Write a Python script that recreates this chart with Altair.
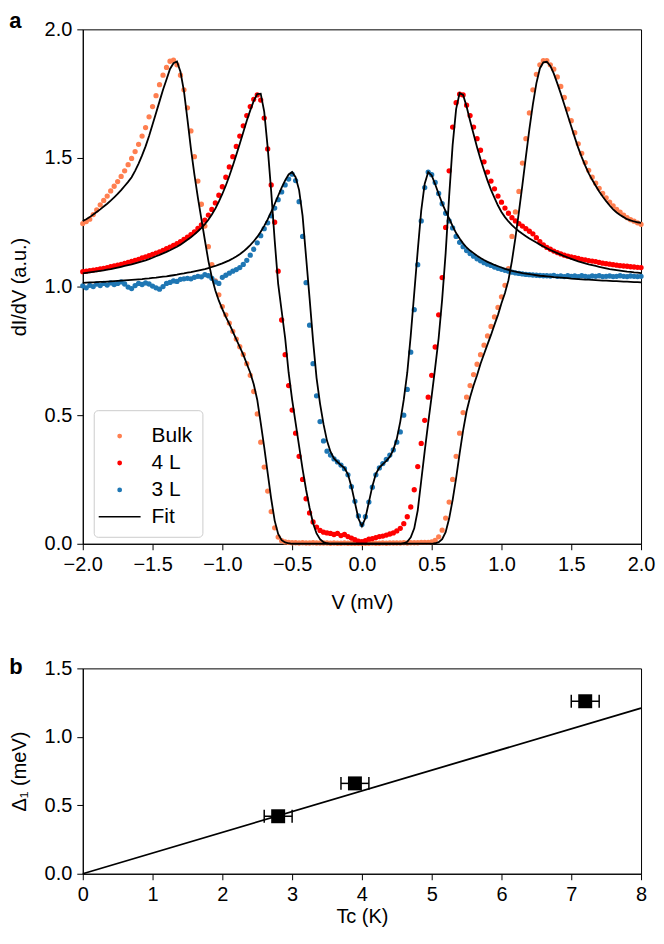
import altair as alt
import pandas as pd

# bias voltage samples (mV): one reading every 0.025 mV from -2 to 2
V = [round(-2 + 0.025 * i, 3) for i in range(161)]

# dI/dV (a.u.)
BULK = [
    1.245, 1.253, 1.262, 1.280, 1.298, 1.318, 1.335, 1.352, 1.372, 1.390,
    1.408, 1.428, 1.450, 1.474, 1.498, 1.525, 1.553, 1.585, 1.618, 1.660,
    1.700, 1.742, 1.785, 1.822, 1.852, 1.876, 1.880, 1.862, 1.822, 1.765,
    1.695, 1.605, 1.505, 1.410, 1.320, 1.235, 1.155, 1.085, 1.022, 0.968,
    0.922, 0.890, 0.858, 0.826, 0.796, 0.766, 0.736, 0.700, 0.655, 0.592,
    0.505, 0.395, 0.298, 0.205, 0.125, 0.062, 0.026, 0.012, 0.007, 0.005,
    0.004, 0.004, 0.003, 0.004, 0.003, 0.003, 0.004, 0.003, 0.003, 0.003,
    0.003, 0.002, 0.003, 0.002, 0.002, 0.003, 0.002, 0.002, 0.002, 0.002,
    0.002, 0.002, 0.002, 0.003, 0.002, 0.002, 0.003, 0.002, 0.003, 0.003,
    0.003, 0.003, 0.004, 0.003, 0.004, 0.004, 0.004, 0.005, 0.005, 0.005,
    0.007, 0.013, 0.027, 0.053, 0.100, 0.162, 0.250, 0.340, 0.430, 0.510,
    0.570, 0.615, 0.658, 0.698, 0.735, 0.772, 0.808, 0.845, 0.882, 0.919,
    0.960, 1.005, 1.070, 1.195, 1.290, 1.370, 1.480, 1.575, 1.675, 1.765,
    1.825, 1.862, 1.878, 1.878, 1.862, 1.845, 1.815, 1.778, 1.735, 1.690,
    1.645, 1.598, 1.555, 1.518, 1.482, 1.452, 1.425, 1.402, 1.382, 1.362,
    1.345, 1.328, 1.314, 1.300, 1.289, 1.278, 1.268, 1.260, 1.254, 1.248,
    1.242,
]
BULK_FIT = [
    1.255, 1.262, 1.270, 1.280, 1.290, 1.300, 1.311, 1.322, 1.334, 1.347,
    1.360, 1.375, 1.391, 1.407, 1.425, 1.450, 1.478, 1.510, 1.545, 1.585,
    1.630, 1.675, 1.720, 1.765, 1.805, 1.846, 1.868, 1.875, 1.835, 1.760,
    1.650, 1.535, 1.435, 1.345, 1.262, 1.180, 1.100, 1.035, 0.985, 0.945,
    0.912, 0.882, 0.855, 0.825, 0.795, 0.765, 0.735, 0.700, 0.665, 0.620,
    0.560, 0.470, 0.376, 0.275, 0.175, 0.090, 0.038, 0.014, 0.005, 0.002,
    0.000, 0.000, 0.000, 0.000, 0.000, 0.000, 0.000, 0.000, 0.000, 0.000,
    0.000, 0.000, 0.000, 0.000, 0.000, 0.000, 0.000, 0.000, 0.000, 0.000,
    0.000, 0.000, 0.000, 0.000, 0.000, 0.000, 0.000, 0.000, 0.000, 0.000,
    0.000, 0.000, 0.000, 0.000, 0.000, 0.000, 0.000, 0.000, 0.000, 0.000,
    0.000, 0.002, 0.006, 0.018, 0.045, 0.098, 0.170, 0.255, 0.350, 0.440,
    0.515, 0.570, 0.615, 0.655, 0.700, 0.738, 0.775, 0.812, 0.852, 0.890,
    0.935, 0.975, 1.025, 1.100, 1.190, 1.290, 1.395, 1.505, 1.612, 1.708,
    1.790, 1.848, 1.872, 1.874, 1.858, 1.828, 1.790, 1.750, 1.708, 1.665,
    1.622, 1.580, 1.539, 1.503, 1.470, 1.440, 1.415, 1.392, 1.370, 1.350,
    1.332, 1.315, 1.300, 1.288, 1.278, 1.270, 1.262, 1.257, 1.253, 1.250,
    1.248,
]
L4 = [
    1.058, 1.060, 1.062, 1.064, 1.066, 1.069, 1.071, 1.074, 1.077, 1.080,
    1.083, 1.086, 1.090, 1.094, 1.098, 1.102, 1.106, 1.111, 1.115, 1.120,
    1.125, 1.130, 1.135, 1.141, 1.147, 1.153, 1.160, 1.167, 1.175, 1.183,
    1.192, 1.202, 1.213, 1.226, 1.240, 1.258, 1.278, 1.300, 1.325, 1.355,
    1.388, 1.425, 1.465, 1.505, 1.545, 1.585, 1.625, 1.665, 1.700, 1.728,
    1.745, 1.725, 1.655, 1.535, 1.395, 1.250, 1.060, 0.870, 0.735, 0.615,
    0.520, 0.430, 0.340, 0.250, 0.175, 0.120, 0.085, 0.065, 0.052, 0.045,
    0.042, 0.040, 0.036, 0.040, 0.032, 0.036, 0.028, 0.022, 0.016, 0.010,
    0.008, 0.012, 0.018, 0.020, 0.024, 0.028, 0.030, 0.034, 0.038, 0.042,
    0.050, 0.060, 0.078, 0.105, 0.143, 0.210, 0.300, 0.390, 0.480, 0.570,
    0.655, 0.765, 0.890, 1.035, 1.230, 1.450, 1.620, 1.715, 1.748, 1.745,
    1.705, 1.665, 1.620, 1.575, 1.530, 1.485, 1.445, 1.410, 1.380, 1.352,
    1.328, 1.305, 1.285, 1.268, 1.255, 1.245, 1.235, 1.225, 1.215, 1.205,
    1.190, 1.175, 1.162, 1.152, 1.145, 1.138, 1.132, 1.127, 1.122, 1.118,
    1.115, 1.112, 1.110, 1.106, 1.104, 1.101, 1.099, 1.097, 1.094, 1.091,
    1.089, 1.087, 1.085, 1.083, 1.081, 1.080, 1.079, 1.077, 1.076, 1.075,
    1.074,
]
L4_FIT = [
    1.051, 1.053, 1.055, 1.057, 1.059, 1.061, 1.063, 1.066, 1.068, 1.071,
    1.074, 1.077, 1.080, 1.083, 1.086, 1.090, 1.094, 1.098, 1.102, 1.107,
    1.112, 1.118, 1.123, 1.129, 1.135, 1.141, 1.148, 1.155, 1.163, 1.172,
    1.182, 1.192, 1.203, 1.215, 1.228, 1.243, 1.260, 1.280, 1.303, 1.330,
    1.360, 1.393, 1.430, 1.470, 1.512, 1.555, 1.600, 1.645, 1.685, 1.722,
    1.748, 1.750, 1.680, 1.540, 1.370, 1.180, 1.010, 0.905, 0.800, 0.665,
    0.560, 0.470, 0.380, 0.290, 0.210, 0.140, 0.080, 0.040, 0.018, 0.006,
    0.002, 0.000, 0.000, 0.000, 0.000, 0.000, 0.000, 0.000, 0.000, 0.000,
    0.000, 0.000, 0.000, 0.000, 0.000, 0.000, 0.000, 0.000, 0.000, 0.000,
    0.000, 0.000, 0.002, 0.008, 0.025, 0.060, 0.130, 0.245, 0.360, 0.470,
    0.575, 0.685, 0.800, 0.950, 1.130, 1.350, 1.550, 1.690, 1.752, 1.745,
    1.700, 1.645, 1.593, 1.542, 1.495, 1.452, 1.412, 1.376, 1.345, 1.315,
    1.290, 1.270, 1.253, 1.239, 1.226, 1.215, 1.205, 1.196, 1.187, 1.179,
    1.171, 1.163, 1.156, 1.149, 1.142, 1.136, 1.130, 1.124, 1.118, 1.113,
    1.108, 1.103, 1.098, 1.094, 1.090, 1.086, 1.083, 1.080, 1.077, 1.074,
    1.071, 1.068, 1.066, 1.064, 1.062, 1.060, 1.058, 1.057, 1.055, 1.054,
    1.052,
]
L3 = [
    1.003, 0.995, 1.005, 1.000, 1.010, 1.004, 1.012, 1.006, 1.014, 1.008,
    1.012, 1.018, 1.010, 0.998, 0.992, 1.004, 1.012, 1.008, 1.014, 1.010,
    1.002, 0.995, 0.990, 1.000, 1.012, 1.016, 1.022, 1.020, 1.028, 1.030,
    1.032, 1.030, 1.036, 1.040, 1.038, 1.046, 1.042, 1.032, 1.018, 1.012,
    1.036, 1.044, 1.052, 1.060, 1.066, 1.074, 1.086, 1.102, 1.122, 1.145,
    1.170, 1.198, 1.225, 1.248, 1.275, 1.305, 1.338, 1.368, 1.395, 1.418,
    1.437, 1.412, 1.330, 1.195, 1.015, 0.850, 0.700, 0.575, 0.475, 0.400,
    0.360, 0.345, 0.330, 0.318, 0.306, 0.292, 0.268, 0.222, 0.165, 0.108,
    0.075, 0.105, 0.162, 0.220, 0.268, 0.295, 0.312, 0.328, 0.345, 0.365,
    0.395, 0.435, 0.500, 0.600, 0.745, 0.910, 1.085, 1.255, 1.385, 1.445,
    1.435, 1.405, 1.362, 1.322, 1.285, 1.255, 1.228, 1.195, 1.172, 1.155,
    1.140, 1.128, 1.118, 1.108, 1.100, 1.093, 1.087, 1.082, 1.076, 1.071,
    1.067, 1.063, 1.060, 1.056, 1.053, 1.051, 1.049, 1.047, 1.046, 1.045,
    1.044, 1.043, 1.042, 1.042, 1.041, 1.043, 1.040, 1.041, 1.039, 1.042,
    1.040, 1.041, 1.039, 1.042, 1.040, 1.038, 1.041, 1.040, 1.042, 1.039,
    1.040, 1.041, 1.039, 1.040, 1.042, 1.040, 1.039, 1.041, 1.040, 1.039,
    1.040,
]
L3_FIT = [
    1.014, 1.015, 1.016, 1.016, 1.017, 1.018, 1.018, 1.019, 1.020, 1.021,
    1.022, 1.023, 1.024, 1.025, 1.026, 1.027, 1.028, 1.029, 1.031, 1.032,
    1.034, 1.035, 1.037, 1.039, 1.040, 1.042, 1.044, 1.046, 1.049, 1.051,
    1.054, 1.056, 1.059, 1.062, 1.065, 1.068, 1.072, 1.076, 1.080, 1.085,
    1.090, 1.096, 1.102, 1.109, 1.117, 1.126, 1.136, 1.148, 1.161, 1.176,
    1.193, 1.213, 1.236, 1.261, 1.290, 1.321, 1.353, 1.385, 1.413, 1.436,
    1.445, 1.425, 1.375, 1.275, 1.115, 0.955, 0.790, 0.645, 0.545, 0.465,
    0.400, 0.358, 0.332, 0.318, 0.306, 0.294, 0.270, 0.222, 0.160, 0.098,
    0.068, 0.100, 0.162, 0.224, 0.272, 0.296, 0.310, 0.322, 0.338, 0.365,
    0.408, 0.475, 0.560, 0.665, 0.810, 0.975, 1.140, 1.295, 1.400, 1.445,
    1.432, 1.398, 1.360, 1.324, 1.292, 1.265, 1.235, 1.208, 1.187, 1.168,
    1.152, 1.140, 1.130, 1.120, 1.111, 1.103, 1.096, 1.090, 1.084, 1.079,
    1.074, 1.069, 1.065, 1.061, 1.058, 1.055, 1.052, 1.050, 1.048, 1.046,
    1.044, 1.042, 1.041, 1.040, 1.039, 1.037, 1.036, 1.035, 1.034, 1.033,
    1.031, 1.030, 1.029, 1.028, 1.027, 1.027, 1.026, 1.025, 1.024, 1.023,
    1.023, 1.022, 1.021, 1.021, 1.020, 1.019, 1.019, 1.018, 1.017, 1.017,
    1.016,
]

SERIES = ['Bulk', '4 L', '3 L']
LEGEND_ITEMS = ['Bulk', '4 L', '3 L', 'Fit']
COLORS = ['coral', '#ff0000', '#1f77b4', 'black']

# panel b: gap vs critical temperature
TC = [2.8, 3.9, 7.2]
TC_ERR = [0.2, 0.2, 0.2]
DELTA1 = [0.42, 0.66, 1.26]
BCS_TC = [0, 8]
BCS_DELTA = [0, 1.21]

FONT = 'Liberation Sans'
FS = 20
W = 560

# small dot and a long dash as unit-box paths, so one legend can mix them
DOT = 'M -0.11 0 A 0.11 0.11 0 1 0 0.11 0 A 0.11 0.11 0 1 0 -0.11 0 Z'
DASH = 'M -1.4 0 L 1.4 0'


def axis(title, values, fmt, pad):
    return alt.Axis(title=title, values=values, format=fmt, grid=False,
                    tickSize=6, labelPadding=5, titlePadding=pad, labelFlush=False,
                    labelFontSize=FS, titleFontSize=FS, titleFontWeight='normal',
                    domainColor='black', tickColor='black',
                    labelColor='black', titleColor='black')


dots = pd.concat([pd.DataFrame({'V': V, 'G': g, 'series': s})
                  for s, g in zip(SERIES, [BULK, L4, L3])])
fits = pd.concat([pd.DataFrame({'V': V, 'G': g, 'curve': s})
                  for s, g in zip(SERIES, [BULK_FIT, L4_FIT, L3_FIT])])

leg = alt.Legend(title=None, orient='none', legendX=11, legendY=382, symbolSize=900,
                 labelFontSize=21, labelColor='black', rowPadding=1, padding=10,
                 strokeColor='#cccccc', fillColor='white', cornerRadius=4,
                 labelOffset=16)

xa = axis('V (mV)', [-2, -1.5, -1, -0.5, 0, 0.5, 1, 1.5, 2], '.1f', 18)
ya = axis('dI/dV (a.u.)', [0, 0.5, 1, 1.5, 2], '.1f', 15)

dot_layer = alt.Chart(dots).mark_point(filled=True, opacity=1, size=900, strokeWidth=2).encode(
    x=alt.X('V:Q', scale=alt.Scale(domain=[-2, 2], nice=False), axis=xa),
    y=alt.Y('G:Q', scale=alt.Scale(domain=[0, 2], nice=False), axis=ya),
    fill=alt.Fill('series:N', scale=alt.Scale(domain=LEGEND_ITEMS, range=COLORS), legend=leg),
    stroke=alt.Stroke('series:N', scale=alt.Scale(domain=LEGEND_ITEMS, range=COLORS), legend=leg),
    shape=alt.Shape('series:N', scale=alt.Scale(domain=LEGEND_ITEMS, range=[DOT, DOT, DOT, DASH]), legend=leg),
)
fit_layer = alt.Chart(fits).mark_line(color='black', strokeWidth=1.8).encode(
    x='V:Q', y='G:Q', detail='curve:N'
)

panel_a = alt.layer(dot_layer, fit_layer).properties(
    width=W, height=516,
    title=alt.TitleParams('a', anchor='start', frame='bounds', offset=-14, fontSize=22,
                          fontWeight='bold', color='black'),
)

pts = pd.DataFrame({'Tc': TC, 'D': DELTA1, 'err': TC_ERR})
pts['lo'] = pts['Tc'] - pts['err']
pts['hi'] = pts['Tc'] + pts['err']
caps = pd.DataFrame({'T': list(pts['lo']) + list(pts['hi']), 'D': DELTA1 + DELTA1})
bcs = pd.DataFrame({'Tc': BCS_TC, 'D': BCS_DELTA})

xb = axis('Tc (K)', list(range(9)), 'd', 2)
yb = axis('Δ₁ (meV)', [0, 0.5, 1, 1.5], '.1f', 15)
xs = alt.Scale(domain=[0, 8], nice=False)
ys = alt.Scale(domain=[0, 1.5], nice=False)

bcs_line = alt.Chart(bcs).mark_line(color='black', strokeWidth=1.8).encode(
    x=alt.X('Tc:Q', scale=xs, axis=xb), y=alt.Y('D:Q', scale=ys, axis=yb)
)
bars = alt.Chart(pts).mark_rule(color='black', strokeWidth=1.5).encode(
    x='lo:Q', x2='hi:Q', y='D:Q'
)
cap_marks = alt.Chart(caps).mark_tick(orient='vertical', color='black', size=13,
                                      thickness=1.5, opacity=1).encode(x='T:Q', y='D:Q')
squares = alt.Chart(pts).mark_square(color='black', size=196, opacity=1).encode(
    x='Tc:Q', y='D:Q'
)

panel_b = alt.layer(bcs_line, bars, cap_marks, squares).properties(
    width=W, height=206,
    title=alt.TitleParams('b', anchor='start', frame='bounds', offset=-21, fontSize=22,
                          fontWeight='bold', color='black'),
)

chart = alt.vconcat(panel_a, panel_b, spacing=42).properties(
    padding={'left': 0, 'top': 0, 'right': 0, 'bottom': 0}
).configure(font=FONT).configure_view(stroke='black', strokeWidth=1)

chart.save("out.html", embed_options={"renderer": "svg", "actions": False})
